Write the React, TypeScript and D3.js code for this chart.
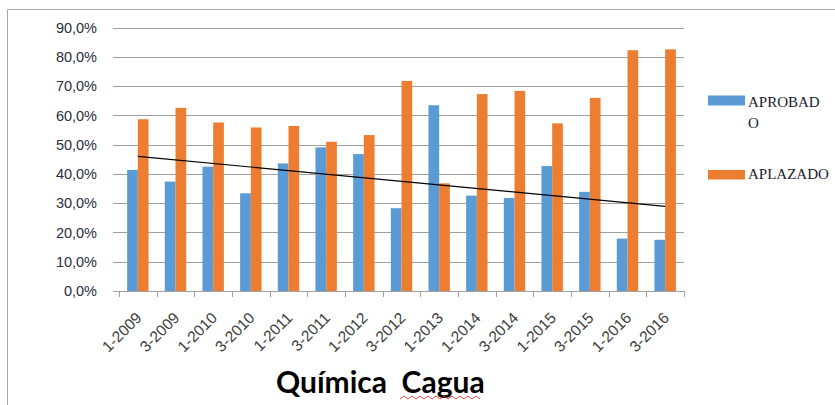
import React from 'react';
import * as d3 from 'd3';

// categories (semesters) and series values
const periods = ['1-2009', '3-2009', '1-2010', '3-2010', '1-2011', '3-2011', '1-2012', '3-2012',
  '1-2013', '1-2014', '3-2014', '1-2015', '3-2015', '1-2016', '3-2016'];
const aprobado = [0.414, 0.374, 0.425, 0.334, 0.436, 0.491, 0.468, 0.283,
  0.635, 0.326, 0.318, 0.427, 0.339, 0.179, 0.175];
const aplazado = [0.587, 0.626, 0.576, 0.559, 0.564, 0.510, 0.533, 0.718,
  0.368, 0.673, 0.684, 0.573, 0.660, 0.823, 0.826];
const seriesNames = ['APROBADO', 'APLAZADO'];
const seriesColors = ['#5B9BD5', '#ED7D31'];
const yTicks = [0, 0.1, 0.2, 0.3, 0.4, 0.5, 0.6, 0.7, 0.8, 0.9];

const W = 835;
const H = 405;

const App = () => {
  const x = d3.scaleBand().domain(periods).range([119, 684]);
  const inner = d3.scaleBand().domain(seriesNames).range([0, 21.4]);
  const y = d3.scaleLinear().domain([0, 0.9]).range([291, 27.7]);
  const pairOffset = (x.bandwidth() - 21.4) / 2;

  const fmt = (v: number) => (v * 100).toFixed(1).replace('.', ',') + '%';

  // linear trendline on APROBADO (least squares over category index)
  const n = aprobado.length;
  const idx = d3.range(1, n + 1);
  const mx = d3.mean(idx) as number;
  const my = d3.mean(aprobado) as number;
  const slope = d3.sum(idx, (i, k) => (i - mx) * (aprobado[k] - my)) / d3.sum(idx, i => (i - mx) ** 2);
  const trend = [1, n].map(i => ({ i, v: my + slope * (i - mx) }));
  const trendLine = d3.line<{ i: number; v: number }>()
    .x(d => (x(periods[d.i - 1]) as number) + x.bandwidth() / 2)
    .y(d => y(d.v));

  const series = [aprobado, aplazado];

  // squiggly spell-check underline under "Cagua"
  const wave = d3.range(0, 21).map(k => [400 + k * 4, k % 2 === 0 ? 399 : 396] as [number, number]);

  return (
    <svg width={W} height={H} style={{ position: 'absolute', left: 0, top: 0, background: '#fff' }}>
      {/* outer chart border */}
      <path d={`M7.5,${H} V9.5 H${W}`} fill="none" stroke="#a6a6a6" strokeWidth={1} />

      {/* gridlines */}
      {yTicks.map(t => (
        <line key={t} x1={113} x2={684} y1={Math.round(y(t)) + 0.5} y2={Math.round(y(t)) + 0.5}
          stroke="#a0a0a0" strokeWidth={1} />
      ))}

      {/* y tick labels */}
      {yTicks.map(t => (
        <text key={'l' + t} x={97} y={y(t)} dy="0.35em" textAnchor="end"
          fontFamily="'Liberation Sans', sans-serif" fontSize={14.5}
          fill="#2a2d3e">{fmt(t)}</text>
      ))}

      {/* bars */}
      {series.map((vals, s) => (
        <g key={seriesNames[s]} fill={seriesColors[s]}>
          {vals.map((v, i) => (
            <rect key={i}
              x={(x(periods[i]) as number) + pairOffset + (inner(seriesNames[s]) as number)}
              y={y(v)} width={inner.bandwidth()} height={y(0) - y(v)} />
          ))}
        </g>
      ))}

      {/* x axis line + ticks */}
      <line x1={113} x2={684} y1={291.5} y2={291.5} stroke="#a0a0a0" />
      {d3.range(periods.length + 1).map(k => {
        const tx = Math.round(119 + k * x.bandwidth()) + 0.5;
        return <line key={'t' + k} x1={tx} x2={tx} y1={291} y2={297} stroke="#a0a0a0" />;
      })}

      {/* x labels rotated */}
      {periods.map(p => {
        const cx = (x(p) as number) + x.bandwidth() / 2 + 1;
        return (
          <text key={p} transform={`translate(${cx},315) rotate(-45)`} textAnchor="end" dy="0.35em"
            fontFamily="'Liberation Sans', sans-serif" fontSize={15.5}
            fill="#404040">{p}</text>
        );
      })}

      {/* trendline */}
      <path d={trendLine(trend) as string} fill="none" stroke="#000" strokeWidth={1.2} />

      {/* legend */}
      <rect x={708} y={95.5} width={37} height={10} fill={seriesColors[0]} />
      <text x={748} y={107} fontFamily="'Liberation Serif', serif" fontSize={15} fill="#1a1a2e">APROBAD</text>
      <text x={748} y={127.5} fontFamily="'Liberation Serif', serif" fontSize={15} fill="#1a1a2e">O</text>
      <rect x={708} y={170} width={37} height={9.5} fill={seriesColors[1]} />
      <text x={748} y={179} fontFamily="'Liberation Serif', serif" fontSize={15} fill="#1a1a2e">APLAZADO</text>

      {/* title */}
      <text x={276} y={393} fontFamily="Lato, 'Open Sans', sans-serif" fontWeight={700} fontSize={30}
        fill="#000" style={{ whiteSpace: 'pre' }}>Química  Cagua</text>
      <path d={d3.line()(wave) as string} fill="none" stroke="#e02020" strokeWidth={0.8} />
    </svg>
  );
};

export default App;
